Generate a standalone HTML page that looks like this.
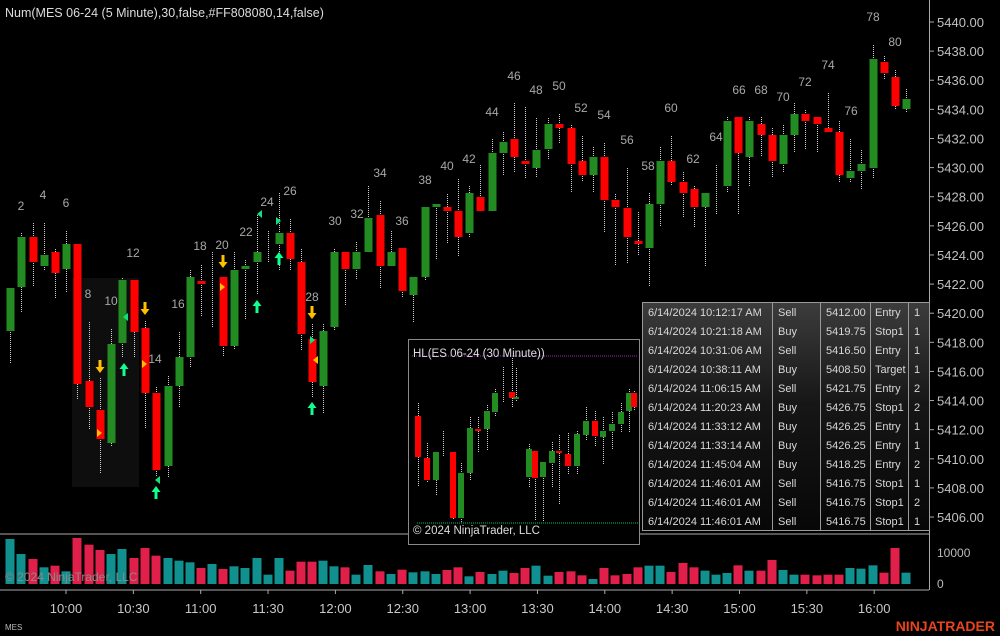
<!DOCTYPE html>
<html><head><meta charset="utf-8"><style>
html,body{margin:0;padding:0;background:#000;width:1000px;height:636px;overflow:hidden}
svg text{font-family:"Liberation Sans",sans-serif}
</style></head><body>
<svg id="s" width="1000" height="636" xmlns="http://www.w3.org/2000/svg">
<rect width="1000" height="636" fill="#000"/>
<rect x="72" y="278" width="67" height="209" fill="#0e0e0e"/>
<g id="c"></g>
<text x="5" y="17" fill="#dcdcdc" font-size="12.5">Num(MES 06-24 (5 Minute),30,false,#FF808080,14,false)</text>
<line x1="0" y1="534" x2="929" y2="534" stroke="#aaa" stroke-width="1"/>
<line x1="0" y1="590" x2="929" y2="590" stroke="#aaa" stroke-width="1"/>
<line x1="929.5" y1="0" x2="929.5" y2="590" stroke="#aaa" stroke-width="1"/>
<text x="5" y="630" fill="#bbb" font-size="8">MES</text>
<text x="995" y="631" fill="#e8451c" font-size="14" font-weight="bold" text-anchor="end">NINJATRADER</text>
<text x="937" y="557" fill="#bbb" font-size="12">10000</text>
<text x="937" y="588" fill="#bbb" font-size="12">0</text>
<!-- inset -->
<rect x="408.5" y="339.5" width="231" height="205" fill="#000" stroke="#8a8a8a"/>
<line x1="412" y1="356" x2="638" y2="356" stroke="#a020c0" stroke-dasharray="1,1"/>
<line x1="417" y1="523" x2="638" y2="523" stroke="#00c060" stroke-dasharray="1,1"/>
<g id="ins"></g>
<text x="413" y="357" fill="#ddd" font-size="11.5">HL(ES 06-24 (30 Minute))</text>
<text x="413" y="534" fill="#ddd" font-size="11.5">© 2024 NinjaTrader, LLC</text>
<!-- table -->
<defs><linearGradient id="tg" x1="0" y1="0" x2="0" y2="1"><stop offset="0" stop-color="#3c3c3c"/><stop offset="0.45" stop-color="#161616"/><stop offset="1" stop-color="#070707"/></linearGradient></defs>
<rect x="642.5" y="302.5" width="287" height="228" fill="url(#tg)" stroke="#999"/>
<g id="tb"></g>
<text x="5" y="581" fill="#8a8a8a" font-size="12">© 2024 NinjaTrader, LLC</text>
</svg>
<script>
const NS="http://www.w3.org/2000/svg";
function el(p,t,a,txt){const e=document.createElementNS(NS,t);for(const k in a)e.setAttribute(k,a[k]);if(txt!==undefined)e.textContent=txt;p.appendChild(e);return e;}
const c=document.getElementById('c');
const G="#228b22",R="#ff0000";
const B=[
[10,288,331,288,364,G],[21,237,287,233,313,G],[33,237,262,223,287,R],[44,255,266,223,270,G],[55,252,273,249,298,R],[66,244,269,231,292,G],
[77,244,384,244,400,R],[89,381,407,322,429,R],[100,410,439,378,473,R],[111,344,443,329,447,G],[122,280,343,278,358,G],[134,280,332,280,358,R],
[145,328,393,321,429,R],[156,393,470,387,477,R],[168,386,466,376,477,G],[179,357,386,332,408,G],[190,277,357,270,368,G],[201,281,284,265,317,R],
[212,0,0,252,328,G],[223,277,346,277,357,R],[234,270,346,252,350,G],[245,266,269,260,320,G],[257,252,262,215,295,G],[268,0,0,231,263,G],
[279,233,244,193,270,G],[290,233,259,219,270,R],[301,262,334,249,350,R],[312,339,382,324,397,R],[323,331,386,324,414,G],[334,252,327,249,330,G],
[345,252,269,252,306,R],[356,252,269,242,280,G],[368,218,252,186,252,G],[380,215,266,201,288,R],[391,252,266,231,266,G],[402,248,291,248,298,R],
[413,277,295,277,323,G],[425,207,277,207,281,G],[436,204,207,204,259,G],[447,207,211,194,244,R],[458,211,237,179,256,R],[469,193,233,186,237,G],
[480,197,211,165,211,R],[492,153,211,139,211,G],[503,142,153,132,175,G],[514,139,157,103,172,R],[525,161,164,107,178,R],[536,150,168,118,178,G],
[548,124,149,118,160,G],[559,124,128,114,143,R],[571,128,164,125,193,R],[582,161,175,136,182,R],[593,157,175,147,193,G],[604,157,200,143,233,R],
[615,200,207,194,266,R],[627,208,237,168,263,R],[638,241,244,212,255,R],[649,204,248,193,287,G],[660,161,204,147,227,G],[671,161,182,136,186,R],
[683,182,193,172,218,R],[694,189,207,186,227,R],[705,193,207,193,266,G],[716,0,0,165,214,G],[727,121,186,117,193,G],[738,117,153,117,214,R],
[749,121,157,117,186,G],[761,124,135,117,157,R],[772,135,161,128,178,R],[783,135,164,125,172,G],[794,114,135,103,153,G],[805,114,121,110,150,R],
[817,117,124,117,153,R],[828,128,132,93,132,R],[839,132,175,121,182,R],[850,171,178,139,182,G],[861,164,171,150,189,G],[873,59,168,45,178,G],
[884,62,73,56,80,R],[895,77,106,70,109,R],[906,99,109,89,113,G]];
B.forEach(b=>{el(c,'line',{x1:b[0]+.5,x2:b[0]+.5,y1:b[3],y2:b[4],stroke:'#d0d0d0','stroke-dasharray':'1,1'});
 if(b[2]>b[1])el(c,'rect',{x:b[0]-3.5,y:b[1],width:8,height:Math.max(3,b[2]-b[1]),fill:b[5]});});
const L=[[2,21,205],[4,43,194],[6,66,202],[8,88,293],[10,111,300],[12,133,252],[14,155,358],[16,178,303],[18,200,245],[20,222,244],[22,246,231],[24,267,201],[26,290,190],[28,312,296],[30,335,220],[32,357,213],[34,380,172],[36,402,220],[38,425,179],[40,447,165],[42,469,158],[44,492,111],[46,514,75],[48,536,89],[50,559,85],[52,581,107],[54,604,114],[56,627,139],[58,648,165],[60,671,107],[62,693,158],[64,716,136],[66,739,89],[68,761,89],[70,783,96],[72,805,81],[74,828,64],[76,851,110],[78,873,16],[80,895,41]];
L.forEach(l=>el(c,'text',{x:l[1],y:l[2]+5,fill:'#a8a8a8','font-size':12,'text-anchor':'middle','font-family':'DejaVu Sans'},String(l[0])));
function down(x,y){el(c,'path',{d:`M${x-1.5},${y} h3 v7 h3 l-4.5,6 l-4.5,-6 h3 z`,fill:'#ffc000'});}
function up(x,y){el(c,'path',{d:`M${x-1.5},${y+13} h3 v-7 h3 l-4.5,-6 l-4.5,6 h3 z`,fill:'#10ff90'});}
function tri(x,y,dir,col){const d=dir>0?`M${x},${y-4} l5,4 l-5,4 z`:`M${x},${y-4} l-5,4 l5,4 z`;el(c,'path',{d,fill:col});}
down(100,360);tri(97,433,1,'#ffc000');up(124,363);tri(128,317,-1,'#10e080');
down(145,302);tri(142,364,1,'#ffc000');tri(160,480,-1,'#10e080');up(156,486);
down(223,255);tri(220,287,1,'#ffc000');tri(262,214,-1,'#10e080');up(257,300);
tri(276,221,1,'#10e080');up(279,252);down(312,306);tri(310,340,1,'#10e080');tri(318,360,-1,'#ffc000');up(312,402);
const V=[25,70,85,110,105,122,22,42,58,70,55,82,52,75,82,90,95,112,100,115,107,112,82,132,82,120,93,93,90,107,110,132,103,122,130,117,125,122,130,118,110,137,124,130,120,127,112,105,135,124,122,134,145,112,134,130,110,105,105,124,97,110,120,132,127,104,120,120,88,118,132,132,134,132,132,112,114,104,126,52,126];
B.forEach((b,i)=>{const h=(160-V[i])/3;el(c,'rect',{x:b[0]-4.5,y:584-h,width:9,height:h,fill:b[5]==G?'#119090':'#e0204a'});});
for(let p=5440,i=0;p>=5406;p-=2,i++){const y=22+i*29.12;el(c,'line',{x1:930,x2:934,y1:y,y2:y,stroke:'#aaa'});el(c,'text',{x:937,y:y+5,fill:'#c0c0c0','font-size':13},p+'.00');}
const T=['10:00','10:30','11:00','11:30','12:00','12:30','13:00','13:30','14:00','14:30','15:00','15:30','16:00'];
T.forEach((t,i)=>{const x=66+i*67.35;el(c,'line',{x1:x,x2:x,y1:590,y2:594,stroke:'#aaa'});el(c,'text',{x:x,y:613,fill:'#c8c8c8','font-size':13,'text-anchor':'middle'},t);});
const ins=document.getElementById('ins');
const I=[[418,416,457,403,487,R],[427,458,480,443,483,R],[436,452,480,452,495,G],[443,0,0,431,457,G],[453,452,518,452,520,R],[461,473,518,463,522,G],[470,428,473,417,480,G],[478,429,431,417,453,R],[487,411,429,405,450,G],[495,393,412,389,416,G],[503,0,0,367,403,G],[512,392,398,358,408,R],[516,397,399,368,402,G],[529,449,477,444,488,G],[535,451,478,451,520,R],[543,462,477,462,522,G],[552,451,463,442,487,G],[559,451,453,435,505,R],[568,454,466,433,475,R],[577,434,466,431,475,G],[586,421,435,407,441,G],[595,421,436,411,447,R],[603,431,437,417,465,G],[612,424,431,412,450,G],[621,412,424,403,433,G],[629,393,411,389,433,G],[634,393,407,391,410,R]];
I.forEach(b=>{el(ins,'line',{x1:b[0]+.5,x2:b[0]+.5,y1:b[3],y2:b[4],stroke:'#d0d0d0','stroke-dasharray':'1,1'});
 if(b[2]>b[1])el(ins,'rect',{x:b[0]-3,y:b[1],width:6,height:Math.max(2,b[2]-b[1]),fill:b[5]});});
const tb=document.getElementById('tb');
const rows=[["10:12:17","Sell","5412.00","Entry","1"],["10:21:18","Buy","5419.75","Stop1","1"],["10:31:06","Sell","5416.50","Entry","1"],["10:38:11","Buy","5408.50","Target","1"],["11:06:15","Sell","5421.75","Entry","2"],["11:20:23","Buy","5426.75","Stop1","2"],["11:33:12","Buy","5426.25","Entry","1"],["11:33:14","Buy","5426.25","Entry","1"],["11:45:04","Buy","5418.25","Entry","2"],["11:46:01","Sell","5416.75","Stop1","1"],["11:46:01","Sell","5416.75","Stop1","2"],["11:46:01","Sell","5416.75","Stop1","1"]];
[772,820,870,908].forEach(x=>el(tb,'line',{x1:x+.5,x2:x+.5,y1:303,y2:530,stroke:'#999'}));
rows.forEach((r,i)=>{const y=316+i*19;const a={fill:'#d8d8d8','font-size':11};
 el(tb,'text',Object.assign({x:648,y},a),'6/14/2024 '+r[0]+' AM');
 el(tb,'text',Object.assign({x:778,y},a),r[1]);
 el(tb,'text',Object.assign({x:826,y},a),r[2]);
 el(tb,'text',Object.assign({x:875,y},a),r[3]);
 el(tb,'text',Object.assign({x:914,y},a),r[4]);});
</script>
</body></html>
